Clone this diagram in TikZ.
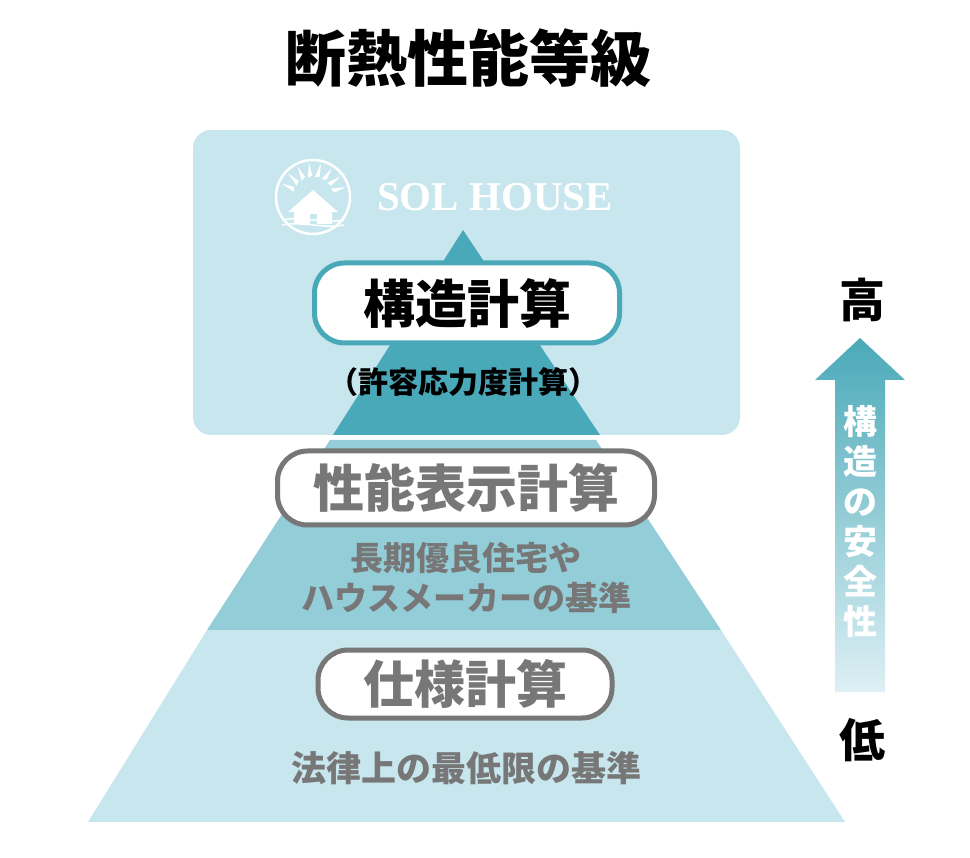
\documentclass[tikz,border=0pt]{standalone}
\usepackage{fontspec}
\setmainfont{Noto Sans CJK JP}
\newfontfamily\logofont{Liberation Serif}[BoldFont={Liberation Serif Bold}]
\usetikzlibrary{shadings}
\definecolor{teal}{HTML}{4AA9B8}
\definecolor{midband}{HTML}{92CDD8}
\definecolor{paleband}{HTML}{C8E6EE}
\definecolor{greytext}{HTML}{777777}
\begin{document}
\begin{tikzpicture}[x=1pt,y=-1pt]
  \tikzset{pill/.style={rounded corners=30pt,line width=5pt,fill=white},
           label/.style={font=\bfseries\fontsize{33}{40}\selectfont,text=greytext}}
  \useasboundingbox (0,0) rectangle (970,858);
  % title
  \node (title) at (468,58) {\bfseries\fontsize{61}{64}\selectfont 断熱性能等級};
  % top box
  \fill[paleband,rounded corners=18pt] (193,130) rectangle (740,435);
  % pyramid bands
  \fill[teal] (463,230) -- (333,435) -- (600,435) -- cycle;
  \fill[midband] (330,440) -- (596,440) -- (721,630) -- (207,630) -- cycle;
  \fill[paleband] (207,630) -- (721,630) -- (845,822) -- (88,822) -- cycle;
  % logo
  \draw[white,line width=2.5pt] (313,197) circle (37);
  \fill[white] (288,212) -- (313,190) -- (338,212) -- (332,212) -- (332,224) -- (294,224) -- (294,212) -- cycle;
  \fill[paleband] (310,214) rectangle (317,224);
  \foreach \a in {195,215,...,345}
    \fill[white] (313,197) ++(\a:20) -- ++(\a+80:5) -- ++(\a:13) -- cycle;
  \foreach \dy in {0,5}
    \draw[white,line width=1.5pt] (282,220+\dy) .. controls (300,216+\dy) and (326,224+\dy) .. (344,220+\dy);
  \node[text=white] (logo) at (495,197) {\logofont\bfseries\fontsize{41}{43}\selectfont SOL HOUSE};
  % pills
  \node[pill,draw=teal,minimum width=305pt,minimum height=80pt] (kozo) at (467,303)
    {\bfseries\fontsize{52}{56}\selectfont 構造計算};
  \node[font=\bfseries\fontsize{30}{34}\selectfont] (kyoyo) at (463,382) {（許容応力度計算）};
  \node[pill,draw=greytext,text=greytext,minimum width=377pt,minimum height=74pt] (seino) at (466,488)
    {\bfseries\fontsize{51}{55}\selectfont 性能表示計算};
  \node[label,align=center] (choki) at (466,578) {長期優良住宅や\\ハウスメーカーの基準};
  \node[pill,draw=greytext,text=greytext,minimum width=294pt,minimum height=68pt] (shiyo) at (465,684)
    {\bfseries\fontsize{51}{55}\selectfont 仕様計算};
  \node[label,font=\bfseries\fontsize{35}{40}\selectfont] (horitsu) at (466,768) {法律上の最低限の基準};
  % arrow
  \shade[top color=teal,bottom color=paleband!60] (835,380) -- (815,380) -- (860,338) -- (905,380) -- (885,380) -- (885,692) -- (835,692) -- cycle;
  \node[text=white,align=center,font=\bfseries\fontsize{34}{40}\selectfont] (anzen) at (860,522)
    {構\\造\\の\\安\\全\\性};
  \node (taka) at (862,300) {\bfseries\fontsize{46}{50}\selectfont 高};
  \node (hiku) at (862,740) {\bfseries\fontsize{46}{50}\selectfont 低};
\end{tikzpicture}
\end{document}
